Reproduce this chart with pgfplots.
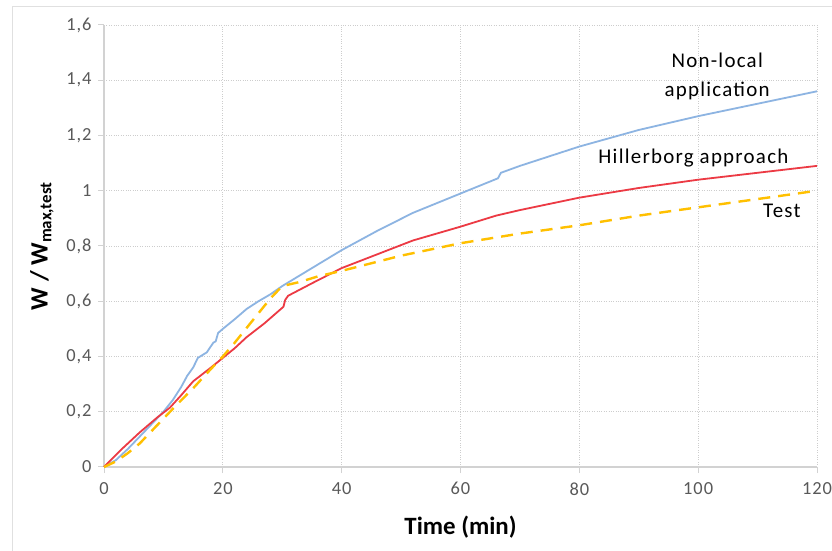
\documentclass[border=0pt]{standalone}
\usepackage{fontspec}
\setmainfont{Carlito}
\newfontfamily\annfont[LetterSpace=6]{Carlito}
\newfontfamily\tickfont[LetterSpace=5]{Carlito}
\usepackage{pgfplots}
\pgfplotsset{compat=1.18}
\definecolor{nlblue}{RGB}{141,180,226}
\definecolor{hred}{RGB}{236,58,68}
\definecolor{tyellow}{RGB}{255,192,0}
\definecolor{axgray}{RGB}{210,210,210}
\definecolor{gridgray}{RGB}{205,205,205}
\definecolor{ticklab}{RGB}{89,89,89}
\begin{document}
\begin{tikzpicture}
\useasboundingbox (0,0) rectangle (832bp,551bp);
\fill[white] (0,0) rectangle (832bp,551bp);
\draw[color=black!12, line width=1bp] (12bp,0) -- (12bp,544bp) -- (832bp,544bp);
\begin{axis}[
  at={(104bp,84bp)}, anchor=south west,
  scale only axis, width=713bp, height=442bp,
  xmin=0, xmax=120, ymin=0, ymax=1.6,
  xtick={0,20,...,120}, ytick={0,0.2,...,1.6},
  axis x line=bottom, axis y line=left,
  axis line style={-, color=axgray, line width=1.6bp},
  tick style={color=axgray, line width=1bp},
  tick align=outside, major tick length=6bp,
  grid=major,
  major grid style={dotted, color=gridgray, line width=0.8bp},
  /pgf/number format/use comma,
  /pgf/number format/assume math mode=true,
  tick label style={font=\tickfont\fontsize{18.5}{21}\selectfont, color=ticklab},
  xticklabel style={yshift=-6bp},
  yticklabel style={xshift=-3bp},
  xlabel={\textbf{Time (min)}},
  ylabel={\textbf{W / W}$_{\textbf{\fontsize{17}{19}\selectfont max,test}}$},
  label style={font=\fontsize{25}{28}\selectfont},
  xlabel style={at={(axis description cs:0.5,-0.136)}, anchor=center},
  ylabel style={at={(axis description cs:-0.087,0.5)}, anchor=center},
  clip=false,
]
\addplot[color=nlblue, line width=1.8bp] coordinates {
(0,0) (2,0.025) (4,0.065) (6,0.11) (8,0.155) (10,0.2) (11.6,0.243) (13,0.29)
(14,0.33) (15,0.36) (15.8,0.395) (17.3,0.415) (18.4,0.45) (18.8,0.455) (19.2,0.485)
(20,0.50) (22,0.535) (24,0.572) (26,0.6) (28,0.625) (30,0.655) (35,0.72) (40,0.785)
(46,0.855) (52,0.92) (60,0.99) (66.3,1.045) (66.8,1.065) (70,1.09) (80,1.16)
(90,1.22) (100,1.27) (110,1.315) (120,1.36)
};
\addplot[color=hred, line width=1.8bp] coordinates {
(0,0) (3,0.065) (6,0.125) (9,0.18) (11.1,0.215) (13,0.26) (15,0.31) (18,0.36)
(20,0.395) (22,0.43) (24,0.47) (27,0.52) (30.2,0.58) (30.5,0.605) (31,0.62)
(35,0.665) (40,0.72) (46,0.77) (52,0.82) (60,0.87) (66,0.91) (70,0.93)
(80,0.975) (90,1.01) (100,1.04) (110,1.065) (120,1.09)
};
\addplot[color=tyellow, line width=2.4bp, dash pattern=on 12bp off 8bp] coordinates {
(0,0) (2,0.02) (4,0.05) (6,0.085) (8,0.13) (10,0.175) (12,0.22) (15,0.285)
(18,0.355) (20,0.40) (22,0.45) (25,0.53) (28,0.61) (30,0.655) (33,0.67)
(36,0.69) (40,0.71) (50,0.765) (60,0.81) (70,0.845) (80,0.875) (90,0.91)
(100,0.94) (110,0.97) (120,1.0)
};
\node[font=\annfont\fontsize{21}{29}\selectfont, align=center, anchor=center] at (axis cs:103.2,1.413) {Non-local\\application};
\node[font=\annfont\fontsize{21}{24}\selectfont, anchor=center] at (axis cs:99.2,1.12) {Hillerborg approach};
\node[font=\annfont\fontsize{21}{24}\selectfont, anchor=center] at (axis cs:114.1,0.928) {Test};
\end{axis}
\end{tikzpicture}
\end{document}
